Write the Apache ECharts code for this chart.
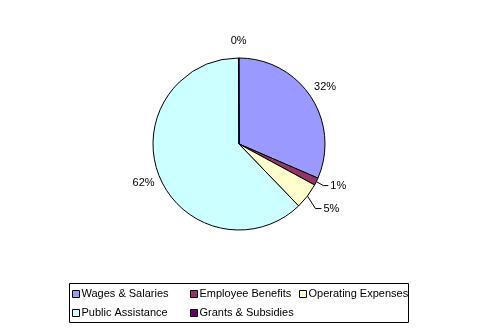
<!DOCTYPE html>
<html>
<head>
<meta charset="utf-8">
<script src="https://cdn.jsdelivr.net/npm/echarts@6/dist/echarts.min.js"></script>
<style>
  html, body { margin: 0; padding: 0; background: #fff; }
  #chart { width: 481px; height: 333px; }
</style>
</head>
<body>
<div id="chart"></div>
<script>
// Spending breakdown by category
const categories = ['Wages & Salaries', 'Employee Benefits', 'Operating Expenses', 'Public Assistance', 'Grants & Subsidies'];
const values = [31.5, 1.4, 4.9, 62.1, 0.1];
const colors = ['#9999FF', '#993366', '#FFFFCC', '#CCFFFF', '#660066'];

const CX = 239, CY = 144, R = 86;
const FONT = 'Liberation Sans, Arial, sans-serif';

const total = values.reduce((a, b) => a + b, 0);
// mid angle of each slice, clockwise from 12 o'clock
const midAngles = [];
{
  let cum = 0;
  values.forEach(v => {
    midAngles.push((cum + v / 2) / total * Math.PI * 2);
    cum += v;
  });
}

// slices whose labels sit on a short leader line
const leader = {
  1: { bend: [7, 4], run: 5 },
  2: { bend: [8, 12.5], run: 6 }
};

function pct(p) { return Math.round(p.percent) + '%'; }

const chart = echarts.init(document.getElementById('chart'), null, { renderer: 'canvas' });

const legendBase = {
  orient: 'vertical',
  top: 288,
  itemWidth: 7,
  itemHeight: 7,
  itemGap: 7,
  icon: 'rect',
  selectedMode: false,
  padding: 0,
  itemStyle: { borderColor: '#000', borderWidth: 1 },
  textStyle: { fontFamily: FONT, fontSize: 11, color: '#000', lineHeight: 12, padding: [0, 0, 0, -3] }
};

chart.setOption({
  animation: false,
  backgroundColor: '#fff',
  legend: [
    Object.assign({}, legendBase, { left: 72, data: [categories[0], categories[3]] }),
    Object.assign({}, legendBase, { left: 190, data: [categories[1], categories[4]] }),
    Object.assign({}, legendBase, { left: 299, data: [categories[2]] })
  ],
  graphic: [{
    type: 'rect',
    shape: { x: 69.5, y: 283.5, width: 339, height: 39 },
    style: { fill: 'none', stroke: '#000', lineWidth: 1 },
    silent: true
  }],
  series: [{
    type: 'pie',
    center: [CX, CY],
    radius: R,
    startAngle: 90,
    clockwise: true,
    avoidLabelOverlap: false,
    emphasis: { disabled: true },
    itemStyle: { borderColor: '#000', borderWidth: 1 },
    label: {
      show: true,
      position: 'outside',
      formatter: pct,
      fontFamily: FONT,
      fontSize: 11,
      color: '#000'
    },
    labelLine: { show: false, lineStyle: { color: '#000', width: 1 } },
    labelLayout: function (p) {
      const i = p.dataIndex;
      const a = midAngles[i];
      const dx = Math.sin(a), dy = -Math.cos(a);
      const L = leader[i];
      if (L) {
        const sx = CX + R * dx, sy = CY + R * dy;
        const bx = sx + L.bend[0], by = sy + L.bend[1];
        const ex = bx + L.run;
        return {
          x: ex + 2, y: by, align: 'left', verticalAlign: 'middle',
          labelLinePoints: [[sx, sy], [bx, by], [ex, by]]
        };
      }
      return { x: CX + 103 * dx, y: CY + 103 * dy, align: 'center', verticalAlign: 'middle' };
    },
    data: categories.map((name, i) => ({
      name: name,
      value: values[i],
      itemStyle: { color: colors[i] },
      labelLine: { show: !!leader[i] }
    }))
  }]
});
</script>
</body>
</html>
